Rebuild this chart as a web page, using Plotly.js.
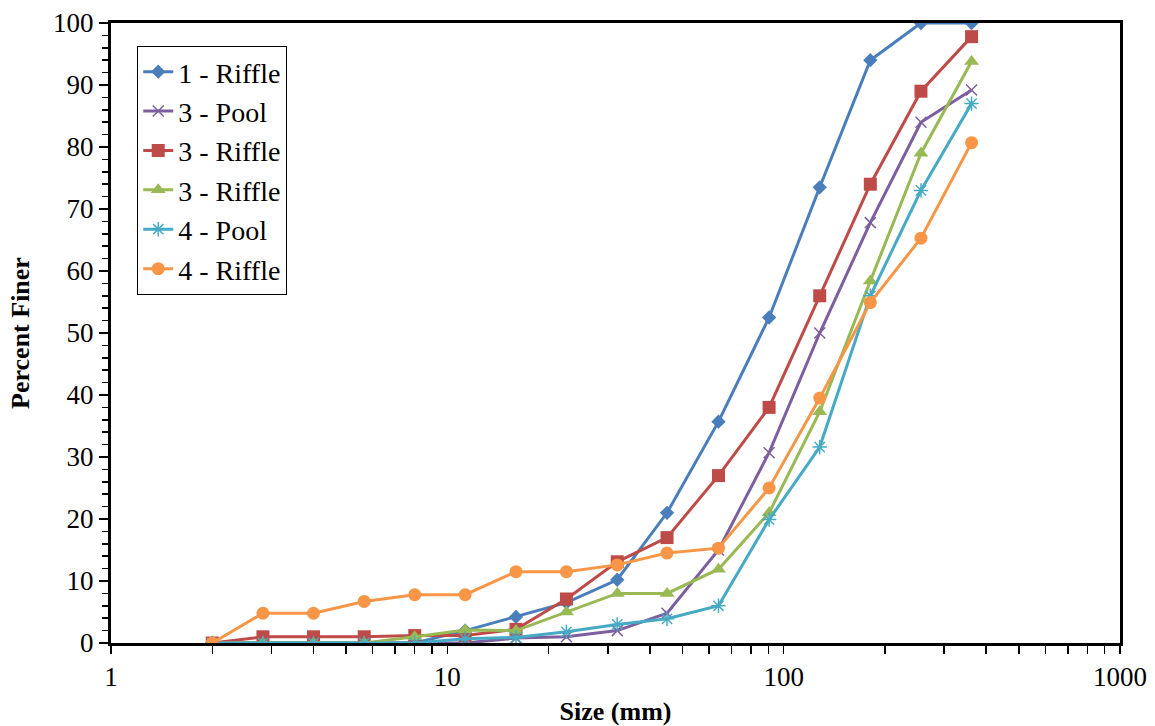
<!DOCTYPE html>
<html>
<head>
<meta charset="utf-8">
<script src="https://cdn.plot.ly/plotly-3.0.1.min.js"></script>
</head>
<body style="margin:0;background:#ffffff">
<div id="chart" style="width:1155px;height:726px"></div>
<script>
// Sieve sizes (mm) on the phi scale
const sizes = [2, 2.83, 4, 5.66, 8, 11.3, 16, 22.6, 32, 45, 64, 90.5, 128, 181, 256, 362];

// Cumulative percent finer for each sample
const riffle1  = [0, 0, 0, 0, 0, 2, 4.2, 6.5, 10.2, 21, 35.7, 52.5, 73.5, 94, 100, 100];
const pool3    = [0, 0, 0, 0, 0, 0, 0.8, 1, 2, 4.8, 15, 30.7, 50, 67.8, 84, 89.2];
const riffle3a = [0, 1, 1, 1, 1.2, 1.2, 2.2, 7.1, 13.1, 17, 27, 38, 56, 74, 89, 97.8];
const riffle3b = [0, 0, 0, 0, 1, 2.1, 2, 5, 8, 8, 11.9, 21, 37.3, 58.4, 79, 93.8];
const pool4    = [0, 0, 0, 0, 0, 0.7, 0.9, 1.8, 3, 3.9, 6, 19.9, 31.6, 56, 73, 87];
const riffle4  = [0, 4.8, 4.8, 6.7, 7.8, 7.8, 11.5, 11.5, 12.6, 14.5, 15.3, 25, 39.5, 54.9, 65.3, 80.7];

const seriesNames = ['1 - Riffle', '3 - Pool', '3 - Riffle', '3 - Riffle', '4 - Pool', '4 - Riffle'];

// Percent axis labels
const yTickVals = [0, 10, 20, 30, 40, 50, 60, 70, 80, 90, 100];

const SERIF = 'Liberation Serif';
const wrap = s => (s === '' ? '' : '<span style="font-family:Liberation Serif">' + s + '</span>');

// Log-axis tick positions: labelled decades plus unlabelled intermediates
const xTickVals = [];
const xTickText = [];
[1, 10, 100].forEach(d => {
  for (let k = 1; k <= 9; k++) {
    xTickVals.push(d * k);
    xTickText.push(k === 1 ? wrap(String(d)) : '');
  }
});
xTickVals.push(1000);
xTickText.push(wrap('1000'));

function series(name, y, color, symbol, size, open) {
  return {
    type: 'scatter',
    mode: 'lines+markers',
    name: wrap(name),
    x: sizes,
    y: y,
    line: { color: color, width: 3 },
    marker: open
      ? { symbol: symbol, size: size, color: color, line: { color: color, width: 1.5 } }
      : { symbol: symbol, size: size, color: color, line: { width: 0 } },
    hoverinfo: 'x+y'
  };
}

const data = [
  series(seriesNames[0], riffle1,  '#4A7EBB', 'diamond',        11, false),
  series(seriesNames[1], pool3,    '#7D5FA0', 'x-thin-open',    11, true),
  series(seriesNames[2], riffle3a, '#BE4B48', 'square',         13, false),
  series(seriesNames[3], riffle3b, '#98B954', 'triangle-up',    13, false),
  series(seriesNames[4], pool4,    '#46AAC5', 'asterisk-open',  12, true),
  series(seriesNames[5], riffle4,  '#F79646', 'circle',         13, false)
];

const layout = {
  width: 1155,
  height: 726,
  margin: { l: 111, r: 35, t: 23, b: 83 },
  paper_bgcolor: '#ffffff',
  plot_bgcolor: '#ffffff',
  font: { family: SERIF, color: '#000000' },
  showlegend: true,
  legend: {
    x: 0.026, y: 0.963, xanchor: 'left', yanchor: 'top',
    bgcolor: '#ffffff', bordercolor: '#000000', borderwidth: 1,
    font: { family: SERIF, size: 28, color: '#000000' }
  },
  xaxis: {
    type: 'log',
    range: [0, 3],
    tickmode: 'array',
    tickvals: xTickVals,
    ticktext: xTickText,
    ticks: 'outside',
    ticklen: 8,
    tickwidth: 1.5,
    tickcolor: '#000000',
    showgrid: false,
    zeroline: false,
    showline: true,
    linecolor: '#000000',
    linewidth: 3,
    mirror: true,
    tickfont: { family: SERIF, size: 27, color: '#000000' },
    title: { text: '<b>Size (mm)</b>', font: { family: SERIF, size: 26, color: '#000000' }, standoff: 16 }
  },
  yaxis: {
    range: [0, 100],
    tickmode: 'array',
    tickvals: yTickVals,
    ticktext: yTickVals.map(v => wrap(String(v))),
    ticks: 'outside',
    ticklen: 9,
    tickwidth: 1.5,
    tickcolor: '#000000',
    minor: { dtick: 2, ticks: 'outside', ticklen: 6, tickwidth: 1.5, tickcolor: '#000000', showgrid: false },
    showgrid: false,
    zeroline: false,
    showline: true,
    linecolor: '#000000',
    linewidth: 3,
    mirror: true,
    tickfont: { family: SERIF, size: 27, color: '#000000' },
    title: { text: '<b>Percent Finer</b>', font: { family: SERIF, size: 26, color: '#000000' }, standoff: 16 }
  }
};

Plotly.newPlot('chart', data, layout, { staticPlot: true });
</script>
</body>
</html>
